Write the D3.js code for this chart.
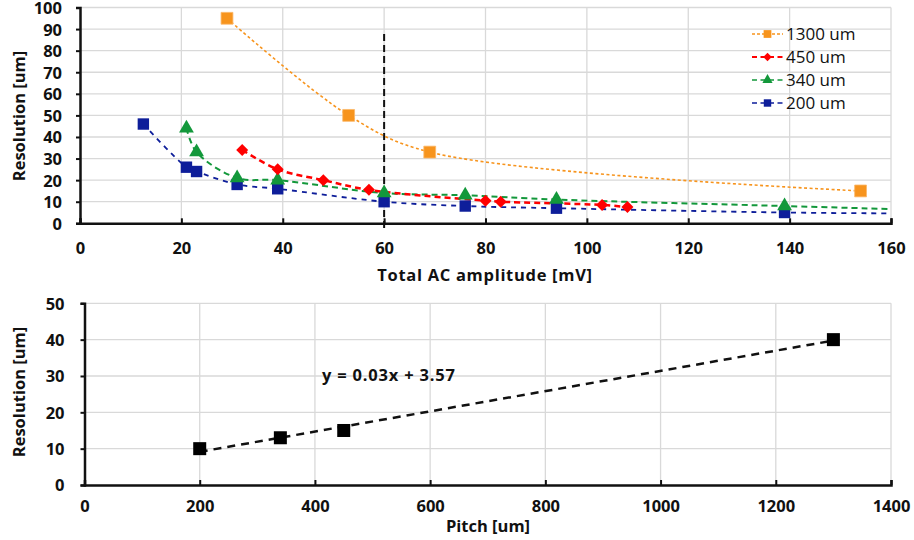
<!DOCTYPE html>
<html><head><meta charset="utf-8">
<script src="https://cdn.jsdelivr.net/npm/d3@7"></script>
<style>
html,body{margin:0;padding:0;background:#fff;}
svg{display:block;font-family:"Open Sans","Lato",sans-serif;}
</style></head>
<body><svg id="c" width="914" height="540"></svg>
<script>
// ---------- data (top chart) ----------
const seriesNames = ["1300 um", "450 um", "340 um", "200 um"];
const x1300 = [29, 53, 69, 154];
const y1300 = [95, 50, 33, 15];
const x450 = [32, 39, 48, 57, 80, 83, 103, 108];
const y450 = [34, 25, 20, 15.5, 10.5, 10, 8.5, 7.5];
const x340 = [21, 23, 31, 39, 60, 76, 94, 139];
const y340 = [44, 33, 21, 20, 14, 13, 11, 8];
const x200 = [12.5, 21, 23, 31, 39, 60, 76, 94, 139];
const y200 = [46, 26, 24, 18, 16, 10, 8, 7, 5];
// trend lines of 340 um and 200 um run on to the axis end (value read at x = 160)
const tailX = [null, null, 160, 160];
const tailY = [null, null, 6.6, 4.6];
const markerLine = 60;
const topXTicks = [0, 20, 40, 60, 80, 100, 120, 140, 160];
const topYTicks = [0, 10, 20, 30, 40, 50, 60, 70, 80, 90, 100];
// ---------- data (bottom chart) ----------
const pitch = [200, 340, 450, 1300];
const resolution = [10, 13, 15, 40];
const botXTicks = [0, 200, 400, 600, 800, 1000, 1200, 1400];
const botYTicks = [0, 10, 20, 30, 40, 50];

const svg = d3.select("#c");
const grid = "#d9d9d9";
const ink = "#111";
const tickFont = 16.5, titleFont = 16.5;

// ================= TOP CHART =================
const tx = d3.scaleLinear().domain([0, 160]).range([80, 891]);
const ty = d3.scaleLinear().domain([0, 100]).range([223.3, 7.5]);
const gTop = svg.append("g");

gTop.append("g").selectAll("line").data(topYTicks.filter(d => d > 0)).join("line")
  .attr("x1", tx(0)).attr("x2", tx(160)).attr("y1", d => ty(d)).attr("y2", d => ty(d))
  .attr("stroke", grid).attr("stroke-width", 1.3);
gTop.append("g").selectAll("line").data(topXTicks.filter(d => d > 0)).join("line")
  .attr("x1", d => tx(d)).attr("x2", d => tx(d)).attr("y1", ty(0)).attr("y2", ty(100))
  .attr("stroke", grid).attr("stroke-width", 1.3);

// axes
const tyAxis = gTop.append("g").attr("transform", `translate(${tx(0)},0)`)
  .call(d3.axisLeft(ty).tickValues(topYTicks).tickSize(4).tickPadding(14).tickFormat(d3.format("d")));
const txAxis = gTop.append("g").attr("transform", `translate(0,${ty(0)})`)
  .call(d3.axisBottom(tx).tickValues(topXTicks).tickSize(-5).tickPadding(20).tickFormat(d3.format("d")));
[tyAxis, txAxis].forEach(a => {
  a.select(".domain").attr("stroke", ink).attr("stroke-width", 2.5);
  a.selectAll(".tick line").attr("stroke", ink).attr("stroke-width", 2);
  a.selectAll("text").attr("fill", ink).attr("font-size", tickFont).attr("font-weight", 700)
    .attr("font-family", "'Open Sans', sans-serif");
});
tyAxis.selectAll("text").attr("dy", "0.36em");
txAxis.selectAll("text").attr("dy", "0.62em");

// vertical dashed line
gTop.append("line").attr("x1", tx(markerLine)).attr("x2", tx(markerLine))
  .attr("y1", 34).attr("y2", ty(0) + 7)
  .attr("stroke", ink).attr("stroke-width", 2).attr("stroke-dasharray", "7,4");

const colors = ["#F7941D", "#FF0000", "#13983B", "#0E1E9A"];
const dashes = ["3,2.5", "6,4", "6,4", "5,5"];
const widths = [1.6, 2.5, 2, 1.8];
const symbols = [d3.symbolSquare, d3.symbolSquare, d3.symbolTriangle, d3.symbolSquare];
const rot = [0, 45, 0, 0];
const symSize = [140, 72, 95, 130];
const legSize = [60, 36, 45, 55];
const xs = [x1300, x450, x340, x200];
const ys = [y1300, y450, y340, y200];

const line = d3.line().x(d => tx(d[0])).y(d => ty(d[1])).curve(d3.curveCatmullRom.alpha(0.5));
const order = [0, 3, 2, 1];
order.forEach(i => {
  const pts = xs[i].map((x, k) => [x, ys[i][k]]);
  if (tailX[i] != null) pts.push([tailX[i], tailY[i]]);
  gTop.append("path").attr("d", line(pts)).attr("fill", "none")
    .attr("stroke", colors[i]).attr("stroke-width", widths[i]).attr("stroke-dasharray", dashes[i]);
});
order.forEach(i => {
  const pts = xs[i].map((x, k) => [x, ys[i][k]]);
  gTop.append("g").selectAll("path").data(pts).join("path")
    .attr("d", d3.symbol().type(symbols[i]).size(symSize[i]))
    .attr("transform", d => `translate(${tx(d[0])},${ty(d[1])}) rotate(${rot[i]})`)
    .attr("fill", colors[i]).attr("stroke", i === 0 ? "#fbb86a" : "none").attr("stroke-width", 0.8);
});

// legend
const leg = gTop.append("g");
seriesNames.forEach((n, i) => {
  const yy = 34 + i * 23;
  leg.append("line").attr("x1", 752).attr("x2", 783).attr("y1", yy).attr("y2", yy)
    .attr("stroke", colors[i]).attr("stroke-width", widths[i] * 0.8).attr("stroke-dasharray", i === 0 ? "3,2" : "5,3.5");
  leg.append("path").attr("d", d3.symbol().type(symbols[i]).size(legSize[i]))
    .attr("transform", `translate(767.5,${yy}) rotate(${rot[i]})`).attr("fill", colors[i]);
  leg.append("text").attr("x", 786).attr("y", yy).attr("dy", "0.36em")
    .attr("font-size", 17).attr("font-weight", 500).attr("fill", ink).text(n);
});

// axis titles
gTop.append("text").attr("x", 485).attr("y", 275).attr("dy", "0.36em").attr("text-anchor", "middle")
  .attr("font-size", titleFont).attr("font-weight", 700).attr("letter-spacing", 0.7).attr("fill", ink)
  .text("Total AC amplitude [mV]");
gTop.append("text").attr("transform", "translate(19,116) rotate(-90)").attr("dy", "0.36em")
  .attr("text-anchor", "middle").attr("font-size", titleFont).attr("font-weight", 700).attr("fill", ink)
  .text("Resolution [um]");

// ================= BOTTOM CHART =================
const bx = d3.scaleLinear().domain([0, 1400]).range([84.5, 891]);
const by = d3.scaleLinear().domain([0, 50]).range([485, 303.3]);
const gBot = svg.append("g");

gBot.append("g").selectAll("line").data(botYTicks.filter(d => d > 0)).join("line")
  .attr("x1", bx(0)).attr("x2", bx(1400)).attr("y1", d => by(d)).attr("y2", d => by(d))
  .attr("stroke", grid).attr("stroke-width", 1.3);
gBot.append("g").selectAll("line").data(botXTicks.filter(d => d > 0)).join("line")
  .attr("x1", d => bx(d)).attr("x2", d => bx(d)).attr("y1", by(0)).attr("y2", by(50))
  .attr("stroke", grid).attr("stroke-width", 1.3);

const byAxis = gBot.append("g").attr("transform", `translate(${bx(0)},0)`)
  .call(d3.axisLeft(by).tickValues(botYTicks).tickSize(4).tickPadding(16).tickFormat(d3.format("d")));
const bxAxis = gBot.append("g").attr("transform", `translate(0,${by(0)})`)
  .call(d3.axisBottom(bx).tickValues(botXTicks).tickSize(-5).tickPadding(17).tickFormat(d3.format("d")));
[byAxis, bxAxis].forEach(a => {
  a.select(".domain").attr("stroke", ink).attr("stroke-width", 2.5);
  a.selectAll(".tick line").attr("stroke", ink).attr("stroke-width", 2);
  a.selectAll("text").attr("fill", ink).attr("font-size", tickFont).attr("font-weight", 700)
    .attr("font-family", "'Open Sans', sans-serif");
});
byAxis.selectAll("text").attr("dy", "0.36em");
bxAxis.selectAll("text").attr("dy", "0.62em");

// linear fit
const mx = d3.mean(pitch), my = d3.mean(resolution);
const slope = d3.sum(pitch.map((x, i) => (x - mx) * (resolution[i] - my))) / d3.sum(pitch.map(x => (x - mx) ** 2));
const icpt = my - slope * mx;
const xmin = d3.min(pitch), xmax = d3.max(pitch);
gBot.append("line").attr("x1", bx(xmin)).attr("y1", by(slope * xmin + icpt))
  .attr("x2", bx(xmax)).attr("y2", by(slope * xmax + icpt))
  .attr("stroke", ink).attr("stroke-width", 2.5).attr("stroke-dasharray", "8,6");

gBot.append("g").selectAll("rect").data(pitch).join("rect")
  .attr("x", (d) => bx(d) - 6.5).attr("y", (d, i) => by(resolution[i]) - 6.5)
  .attr("width", 13).attr("height", 13).attr("fill", "#000");

gBot.append("text").attr("x", 322).attr("y", 375).attr("dy", "0.36em")
  .attr("font-size", titleFont).attr("font-weight", 700).attr("letter-spacing", 0.8).attr("fill", ink)
  .text(`y = ${slope.toFixed(2)}x + ${icpt.toFixed(2)}`);

gBot.append("text").attr("x", 488).attr("y", 526).attr("dy", "0.36em").attr("text-anchor", "middle")
  .attr("font-size", titleFont).attr("font-weight", 700).attr("fill", ink).text("Pitch [um]");
gBot.append("text").attr("transform", "translate(19,392) rotate(-90)").attr("dy", "0.36em")
  .attr("text-anchor", "middle").attr("font-size", titleFont).attr("font-weight", 700).attr("fill", ink)
  .text("Resolution [um]");
</script></body></html>
